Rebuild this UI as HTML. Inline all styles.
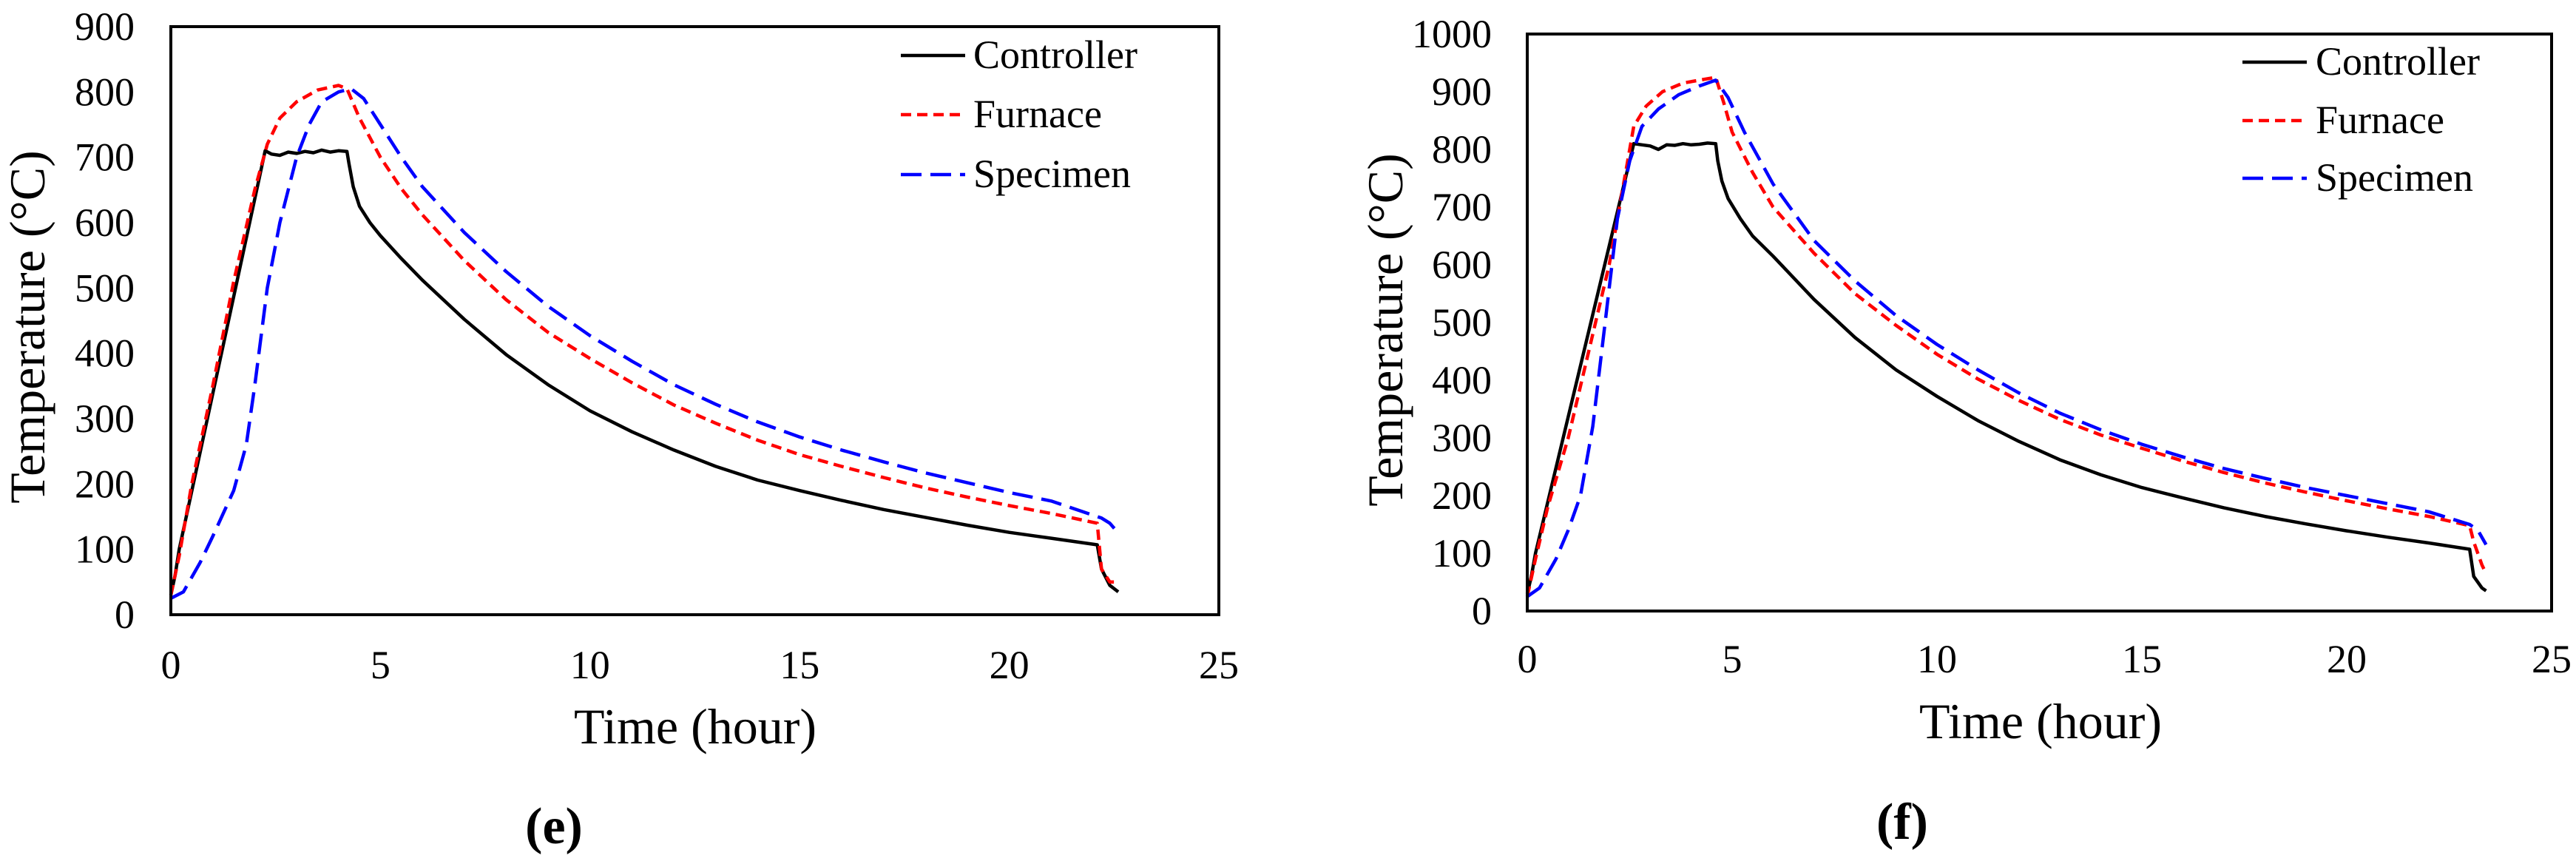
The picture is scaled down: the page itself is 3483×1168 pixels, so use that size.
<!DOCTYPE html>
<html><head><meta charset="utf-8"><style>
html,body{margin:0;padding:0;background:#fff;}
svg{display:block;}
svg text{font-family:"Liberation Serif","DejaVu Serif",serif;}
</style></head><body>
<svg id="fig" width="3483" height="1168" viewBox="0 0 3483 1168"></svg>
<script>
const xTicks=[0,5,10,15,20,25];
const yTicksE=[0,100,200,300,400,500,600,700,800,900];
const yTicksF=[0,100,200,300,400,500,600,700,800,900,1000];
const seriesNames=["Controller","Furnace","Specimen"];
const eCtrlX=[0,0.1,0.2,2.25,2.4,2.6,2.8,3.0,3.2,3.4,3.6,3.8,4.0,4.2,4.25,4.35,4.5,4.75,5,5.5,6,7,8,9,10,11,12,13,14,15,16,17,18,19,20,21,22.1,22.2,22.4,22.6];
const eCtrlY=[30,60,100,710,705,703,708,706,709,707,711,708,710,709,690,655,625,600,580,545,512,452,398,352,312,280,252,227,206,190,175,161,149,137,126,117,107,70,45,35];
const eFurnX=[0,0.2,0.5,1,1.5,2,2.3,2.6,3,3.5,4,4.2,4.5,5,5.5,6,7,8,9,10,11,12,13,14,15,16,17,18,19,20,21,22.1,22.2,22.4,22.6];
const eFurnY=[30,90,200,350,510,650,720,760,785,803,810,805,760,700,652,612,542,482,432,392,355,321,293,267,245,227,210,194,180,167,155,140,70,50,50];
const eSpecX=[0,0.3,0.7,1,1.5,1.8,2,2.3,2.6,3,3.3,3.6,4,4.3,4.6,5,5.5,6,7,8,9,10,11,12,13,14,15,16,17,18,19,20,21,22.2,22.4,22.6];
const eSpecY=[25,35,80,120,190,260,350,500,600,700,750,785,800,805,790,750,700,655,585,525,472,427,388,352,322,295,272,252,234,217,202,187,174,148,140,125];
const fCtrlX=[0,0.1,0.2,2.6,2.8,3.0,3.2,3.4,3.6,3.8,4.0,4.2,4.4,4.6,4.65,4.75,4.9,5.2,5.5,6,7,8,9,10,11,12,13,14,15,16,17,18,19,20,21,22,23,23.1,23.3,23.4];
const fCtrlY=[30,60,100,810,808,806,800,808,807,810,808,809,811,810,780,745,715,680,650,615,540,474,418,372,330,294,262,236,214,196,179,164,151,139,128,118,107,60,40,35];
const fFurnX=[0,0.2,0.5,1,1.5,2,2.4,2.6,2.9,3.3,3.8,4.2,4.6,4.8,5,5.5,6,7,8,9,10,11,12,13,14,15,16,17,18,19,20,21,22,23,23.1,23.3,23.4];
const fFurnY=[25,90,180,300,450,600,760,840,875,900,915,920,925,880,830,760,700,620,550,495,445,402,365,332,305,282,260,240,222,206,191,177,164,148,120,80,65];
const fSpecX=[0,0.3,0.7,1,1.3,1.6,1.9,2.2,2.5,2.8,3.2,3.7,4.2,4.6,4.9,5.3,6,7,8,9,10,11,12,13,14,15,16,17,18,19,20,21,22,23,23.2,23.4];
const fSpecY=[25,40,90,140,200,320,500,680,780,840,870,895,910,920,890,830,740,642,572,512,462,418,378,343,314,289,267,247,230,214,200,186,172,150,140,115];

const NS="http://www.w3.org/2000/svg";
const svg=document.getElementById('fig');
function mk(tag,attrs,parent){const e=document.createElementNS(NS,tag);for(const k in attrs)e.setAttribute(k,attrs[k]);(parent||svg).appendChild(e);return e;}
const FF="'Liberation Serif','DejaVu Serif',serif";

function chart(cfg){
  const g=mk('g',{});
  
  
  const sx=v=>cfg.L+(v-0)/25*(cfg.R-cfg.L);
  const sy=v=>cfg.B-v/cfg.ymax*(cfg.B-cfg.T);
  const styles=[{c:'#000',d:'none'},{c:'#ff0000',d:'14 8'},{c:'#0000ff',d:'28 12'}];
  cfg.series.forEach((s,i)=>{
    const d=s[0].map((x,j)=>(j?'L':'M')+sx(x).toFixed(1)+' '+sy(s[1][j]).toFixed(1)).join(' ');
    const p=mk('path',{d:d,fill:'none',stroke:styles[i].c,'stroke-width':4.5,'stroke-dasharray':styles[i].d,'stroke-linejoin':'round'},g);
    
    
  });
  const fr=mk('rect',{x:cfg.L,y:cfg.T,width:cfg.R-cfg.L,height:cfg.B-cfg.T,fill:'none',stroke:'#000','stroke-width':4},g);
  
  
  cfg.yticks.forEach(v=>{
    const t=mk('text',{x:cfg.yLabR,y:sy(v)+18,'text-anchor':'end','font-size':54,style:'font-family:'+FF},g);
    t.textContent=v;
    
    
  });
  xTicks.forEach(v=>{
    const t=mk('text',{x:sx(v),y:cfg.xLabY+18,'text-anchor':'middle','font-size':54,style:'font-family:'+FF},g);
    t.textContent=v;
    
    
  });
  const xt=mk('text',{x:cfg.xtX,y:cfg.xtY+24,'text-anchor':'middle','font-size':68,style:'font-family:'+FF},g);
  xt.textContent='Time (hour)';
  
  
  const yt=mk('text',{x:0,y:0,'text-anchor':'middle','font-size':68,style:'font-family:'+FF,transform:`translate(${cfg.ytX+24},${cfg.ytY}) rotate(-90)`},g);
  yt.textContent='Temperature (°C)';
  
  
  cfg.legY.forEach((y,i)=>{
    const l=mk('line',{x1:cfg.legX1,x2:cfg.legX2,y1:y,y2:y,stroke:styles[i].c,'stroke-width':4.5,'stroke-dasharray':styles[i].d},g);
    
    
    const t=mk('text',{x:cfg.legTX,y:y+17,'font-size':54,style:'font-family:'+FF},g);
    t.textContent=seriesNames[i];
    
    
  });
  const pl=mk('text',{x:cfg.pX,y:cfg.pY+24,'text-anchor':'middle','font-size':70,'font-weight':'bold',style:'font-family:'+FF},g);
  pl.textContent=cfg.panel;
  
  
}
chart({name:'chart-e',L:231,R:1648,T:36,B:831,ymax:900,yticks:yTicksE,yLabR:182,xLabY:899,xtX:940,xtY:981,ytX:36,ytY:442,
  legX1:1218,legX2:1305,legTX:1316,legY:[75,155,236],pX:749,pY:1116,panel:'(e)',
  series:[[eCtrlX,eCtrlY],[eFurnX,eFurnY],[eSpecX,eSpecY]]});
chart({name:'chart-f',L:2065,R:3450,T:46,B:826,ymax:1000,yticks:yTicksF,yLabR:2017,xLabY:891,xtX:2759,xtY:974,ytX:1872,ytY:446,
  legX1:3032,legX2:3119,legTX:3131,legY:[84,163,241],pX:2572,pY:1110,panel:'(f)',
  series:[[fCtrlX,fCtrlY],[fFurnX,fFurnY],[fSpecX,fSpecY]]});
</script>
</body></html>
